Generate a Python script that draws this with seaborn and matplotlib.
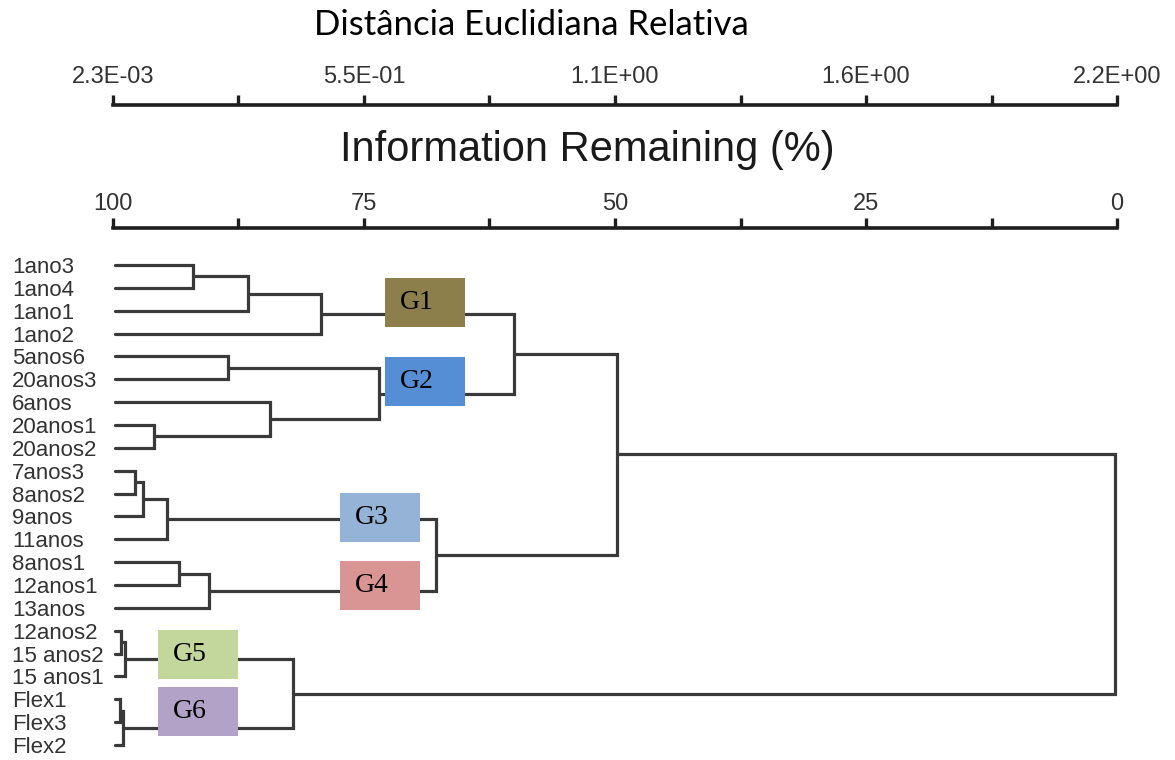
import numpy as np
import pandas as pd
import matplotlib
matplotlib.use("Agg")
import matplotlib.pyplot as plt
import matplotlib.transforms as mtransforms
from matplotlib.patches import Rectangle
import seaborn as sns

# ---------------- data ----------------
leaves = ["1ano3", "1ano4", "1ano1", "1ano2", "5anos6", "20anos3", "6anos",
          "20anos1", "20anos2", "7anos3", "8anos2", "9anos", "11anos",
          "8anos1", "12anos1", "13anos", "12anos2", "15 anos2", "15 anos1",
          "Flex1", "Flex3", "Flex2"]
leaf_level = 99.8  # information remaining at the leaves (%)

# merges: node id of merge k is len(leaves) + k
merge_left = [0, 22, 23, 4, 7, 6, 25, 24, 9, 30, 31, 13, 33, 32, 29,
              16, 37, 19, 39, 38, 36]
merge_right = [1, 2, 3, 5, 8, 26, 27, 28, 10, 11, 12, 14, 15, 34, 35,
               17, 18, 20, 21, 40, 41]
merge_height = [92.0, 86.6, 79.3, 88.5, 95.9, 84.4, 73.5, 60.1, 97.8, 97.0,
                94.6, 93.4, 90.4, 67.8, 49.8, 99.2, 98.8, 99.3, 99.0, 82.1, 0.2]

group_names = ["G1", "G2", "G3", "G4", "G5", "G6"]
group_colors = ["#8C7F4B", "#558ED5", "#95B3D7", "#D99594", "#C3D69B", "#B2A2C7"]

info_ticks = [100, 75, 50, 25, 0]
info_labels = ["100", "75", "50", "25", "0"]
distance_labels = ["2.3E-03", "5.5E-01", "1.1E+00", "1.6E+00", "2.2E+00"]

title_distance = "Distância Euclidiana Relativa"
title_info = "Information Remaining (%)"

# ---------------- layout ----------------
W, H = 1175, 760
box_left = [72.9, 72.9, 77.4, 77.4, 95.5, 95.5]      # left edge (% axis)
box_top = [0.57, 4.03, 9.98, 12.95, 15.97, 18.46]     # top edge (leaf units)
box_w = 7.97
box_h = 2.14
line_color = "#3a3a3a"

sns.set_theme(style="white")
plt.rcParams["font.family"] = ["Liberation Sans", "DejaVu Sans"]

fig = plt.figure(figsize=(W / 100, H / 100), dpi=100)

# dendrogram axes
ax = fig.add_axes([113 / W, 0, 1004 / W, 510 / H])

n = len(leaves)
node_pos = {i: (leaf_level, float(i)) for i in range(n)}
rows = []
for k, (l, r, h) in enumerate(zip(merge_left, merge_right, merge_height)):
    hl, yl = node_pos[l]
    hr, yr = node_pos[r]
    for j, (x, y) in enumerate([(hl, yl), (h, yl), (h, yr), (hr, yr)]):
        rows.append({"seg": k, "order": j, "x": x, "y": y})
    node_pos[n + k] = (h, (yl + yr) / 2)
seg_df = pd.DataFrame(rows)

sns.lineplot(data=seg_df, x="x", y="y", units="seg", estimator=None,
             sort=False, color=line_color, linewidth=2.3, legend=False,
             ax=ax, solid_joinstyle="miter", clip_on=False)
ax.set_xlim(100, 0)
ax.set_ylim(21.656, -0.656)
ax.axis("off")

# leaf labels
trans = mtransforms.blended_transform_factory(fig.transFigure, ax.transData)
for i, name in enumerate(leaves):
    ax.text(12 / W, i, name, transform=trans, ha="left", va="center_baseline",
            fontsize=16, color="#333333")

# group boxes
for name, col, bx, by in zip(group_names, group_colors, box_left, box_top):
    ax.add_patch(Rectangle((bx - box_w, by), box_w, box_h, facecolor=col,
                           edgecolor="none", zorder=5))
    ax.text(bx - 1.5, by + box_h / 2, name, ha="left", va="center",
            fontsize=20, family=["Liberation Serif", "DejaVu Serif"],
            color="black", zorder=6)

# top scale axes
minor_ticks = [(a + b) / 2 for a, b in zip(info_ticks[:-1], info_ticks[1:])]


def scale_axis(y_px, labels, pad, size):
    h = 0.001
    a = fig.add_axes([113 / W, 1 - y_px / H - h, 1004 / W, h])
    a.set_xlim(100, 0)
    a.set_ylim(0, 1)
    for s in ["left", "right", "bottom"]:
        a.spines[s].set_visible(False)
    a.spines["top"].set_linewidth(2.6)
    a.spines["top"].set_color("#1e1e1e")
    a.xaxis.set_ticks_position("top")
    a.set_xticks(info_ticks, labels)
    a.set_xticks(minor_ticks, minor=True)
    a.set_yticks([])
    a.tick_params(axis="x", which="both", direction="out", length=7.5,
                  width=2.4, color="#1e1e1e", pad=pad, labelsize=size,
                  labelcolor="#333333")
    a.patch.set_alpha(0)
    return a


scale_axis(105, distance_labels, 4.5, 17)
scale_axis(228, info_labels, 2.0, 17)

fig.text(531 / W, 1 - 25 / H, title_distance, ha="center", va="center",
         fontsize=25, family=["Lato", "DejaVu Sans"], color="black")
fig.text(587 / W, 1 - 150 / H, title_info, ha="center", va="center",
         fontsize=30, color="#1a1a1a")

fig.savefig("out.png", dpi=100, facecolor="white")
